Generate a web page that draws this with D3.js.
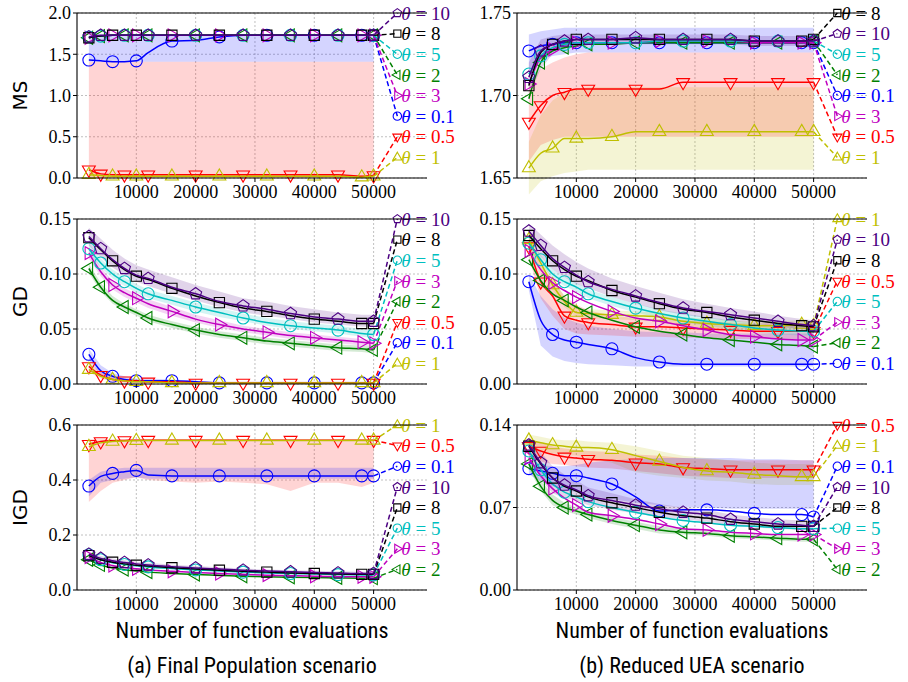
<!DOCTYPE html>
<html>
<head>
<meta charset="utf-8">
<script src="https://cdn.jsdelivr.net/npm/d3@7"></script>
<style>
body { margin: 0; background: #fff; }
</style>
</head>
<body>
<svg id="chart" width="908" height="682"></svg>
<script>
// evaluation counts where every series was sampled
var evals = [2000, 4000, 6000, 8000, 10000, 12000, 16000, 20000, 24000, 28000, 32000, 36000, 40000, 44000, 48000, 50000];
var thetas = ["0.1", "0.5", "1", "2", "3", "5", "8", "10"];
var thetaColors = ["#0000ff", "#ff0000", "#bfbf00", "#008000", "#bf00bf", "#00bfbf", "#000000", "#4b0082"];
var thetaMarkers = ["circle", "triDown", "triUp", "triLeft", "triRight", "circle", "square", "pentagon"];
var xTicks = [10000, 20000, 30000, 40000, 50000];

// ---- MS, final population (rows follow thetas order)
var msFinalPop = [
  [1.43, 1.42, 1.41, 1.41, 1.42, 1.52, 1.66, 1.67, 1.71, 1.73, 1.73, 1.73, 1.73, 1.73, 1.73, 1.73],
  [0.10, 0.05, 0.04, 0.04, 0.04, 0.04, 0.04, 0.04, 0.04, 0.04, 0.04, 0.04, 0.04, 0.04, 0.02, 0.03],
  [0.04, 0.03, 0.02, 0.02, 0.02, 0.02, 0.02, 0.02, 0.02, 0.02, 0.02, 0.02, 0.02, 0.02, 0.01, 0.02],
  [1.70, 1.72, 1.73, 1.73, 1.73, 1.73, 1.73, 1.73, 1.73, 1.73, 1.73, 1.73, 1.73, 1.73, 1.73, 1.73],
  [1.70, 1.72, 1.73, 1.73, 1.73, 1.73, 1.73, 1.73, 1.73, 1.73, 1.73, 1.73, 1.73, 1.73, 1.73, 1.73],
  [1.71, 1.72, 1.73, 1.73, 1.73, 1.73, 1.73, 1.73, 1.73, 1.73, 1.73, 1.73, 1.73, 1.73, 1.73, 1.73],
  [1.70, 1.72, 1.73, 1.73, 1.73, 1.73, 1.73, 1.73, 1.73, 1.73, 1.73, 1.73, 1.73, 1.73, 1.73, 1.73],
  [1.71, 1.73, 1.73, 1.73, 1.73, 1.73, 1.73, 1.73, 1.73, 1.73, 1.73, 1.73, 1.73, 1.73, 1.73, 1.73]
];
var msFinalPopBands = [
  {theta: "0.5", lo: [0, 0, 0, 0, 0, 0, 0, 0, 0, 0, 0, 0, 0, 0, 0, 0],
   hi: [1.41, 1.41, 1.41, 1.41, 1.41, 1.41, 1.41, 1.41, 1.41, 1.41, 1.41, 1.41, 1.41, 1.41, 1.41, 1.41]},
  {theta: "1", lo: [0, 0, 0, 0, 0, 0, 0, 0, 0, 0, 0, 0, 0, 0, 0, 0],
   hi: [0.07, 0.05, 0.04, 0.04, 0.04, 0.04, 0.04, 0.04, 0.04, 0.04, 0.04, 0.04, 0.04, 0.04, 0.03, 0.03]},
  {theta: "0.1", lo: [1.41, 1.41, 1.41, 1.41, 1.41, 1.41, 1.41, 1.41, 1.41, 1.41, 1.41, 1.41, 1.41, 1.41, 1.41, 1.41],
   hi: [1.74, 1.74, 1.74, 1.74, 1.74, 1.74, 1.74, 1.74, 1.74, 1.74, 1.74, 1.74, 1.74, 1.74, 1.74, 1.74]}
];
var msFinalPopOrder = ["10", "8", "5", "2", "3", "0.1", "0.5", "1"];

// ---- MS, reduced UEA
var msReducedUea = [
  [1.727, 1.730, 1.731, 1.732, 1.732, 1.732, 1.732, 1.732, 1.732, 1.732, 1.732, 1.732, 1.732, 1.732, 1.732, 1.732],
  [1.684, 1.694, 1.700, 1.702, 1.704, 1.704, 1.704, 1.704, 1.704, 1.708, 1.708, 1.708, 1.708, 1.708, 1.708, 1.708],
  [1.656, 1.665, 1.668, 1.674, 1.674, 1.674, 1.675, 1.678, 1.678, 1.678, 1.678, 1.678, 1.678, 1.678, 1.678, 1.678],
  [1.698, 1.720, 1.727, 1.729, 1.730, 1.731, 1.731, 1.732, 1.732, 1.732, 1.732, 1.732, 1.732, 1.732, 1.732, 1.733],
  [1.707, 1.723, 1.728, 1.731, 1.732, 1.732, 1.732, 1.732, 1.733, 1.733, 1.733, 1.733, 1.732, 1.732, 1.732, 1.732],
  [1.713, 1.724, 1.729, 1.731, 1.732, 1.732, 1.732, 1.732, 1.733, 1.733, 1.733, 1.733, 1.733, 1.733, 1.733, 1.733],
  [1.706, 1.726, 1.731, 1.733, 1.734, 1.734, 1.734, 1.734, 1.734, 1.734, 1.734, 1.734, 1.733, 1.733, 1.733, 1.734],
  [1.711, 1.727, 1.731, 1.733, 1.734, 1.734, 1.734, 1.735, 1.734, 1.734, 1.734, 1.734, 1.733, 1.733, 1.733, 1.733]
];
var msReducedUeaBands = [
  {theta: "1", lo: [1.640, 1.648, 1.651, 1.653, 1.654, 1.655, 1.655, 1.655, 1.655, 1.655, 1.655, 1.655, 1.655, 1.655, 1.655, 1.655],
   hi: [1.672, 1.688, 1.697, 1.702, 1.704, 1.705, 1.705, 1.705, 1.705, 1.705, 1.705, 1.705, 1.705, 1.705, 1.705, 1.705]},
  {theta: "0.5", lo: [1.660, 1.670, 1.673, 1.675, 1.675, 1.675, 1.675, 1.675, 1.675, 1.675, 1.675, 1.675, 1.675, 1.675, 1.675, 1.675],
   hi: [1.708, 1.716, 1.720, 1.723, 1.725, 1.726, 1.726, 1.726, 1.726, 1.726, 1.726, 1.726, 1.726, 1.726, 1.726, 1.726]},
  {theta: "0.1", lo: [1.715, 1.722, 1.724, 1.725, 1.726, 1.726, 1.726, 1.726, 1.726, 1.726, 1.726, 1.726, 1.726, 1.726, 1.726, 1.726],
   hi: [1.737, 1.739, 1.740, 1.741, 1.741, 1.741, 1.741, 1.741, 1.741, 1.741, 1.741, 1.741, 1.741, 1.741, 1.741, 1.741]},
  {theta: "10", lo: [1.700, 1.716, 1.725, 1.729, 1.730, 1.731, 1.731, 1.731, 1.731, 1.731, 1.731, 1.731, 1.730, 1.730, 1.730, 1.730],
   hi: [1.720, 1.734, 1.736, 1.737, 1.737, 1.737, 1.737, 1.737, 1.737, 1.737, 1.737, 1.737, 1.736, 1.736, 1.736, 1.736]}
];
var msReducedUeaOrder = ["8", "10", "5", "2", "0.1", "3", "0.5", "1"];

// ---- GD, final population
var gdFinalPop = [
  [0.027, 0.012, 0.007, 0.004, 0.003, 0.003, 0.003, 0.002, 0.001, 0.001, 0.001, 0.001, 0.001, 0.001, 0.001, 0.001],
  [0.016, 0.008, 0.004, 0.003, 0.003, 0.002, 0.002, 0.001, 0.001, 0.001, 0.001, 0.001, 0.001, 0.001, 0.001, 0.001],
  [0.013, 0.007, 0.004, 0.003, 0.002, 0.002, 0.001, 0.001, 0.001, 0.001, 0.001, 0.001, 0.001, 0.001, 0.001, 0.001],
  [0.105, 0.088, 0.076, 0.070, 0.065, 0.060, 0.054, 0.049, 0.045, 0.042, 0.039, 0.037, 0.035, 0.033, 0.032, 0.031],
  [0.119, 0.102, 0.090, 0.083, 0.078, 0.073, 0.066, 0.059, 0.054, 0.050, 0.047, 0.044, 0.042, 0.040, 0.038, 0.037],
  [0.123, 0.110, 0.100, 0.093, 0.087, 0.082, 0.076, 0.070, 0.065, 0.060, 0.056, 0.053, 0.051, 0.049, 0.046, 0.045],
  [0.133, 0.122, 0.112, 0.104, 0.098, 0.095, 0.087, 0.080, 0.074, 0.069, 0.066, 0.062, 0.059, 0.057, 0.055, 0.055],
  [0.134, 0.123, 0.113, 0.105, 0.099, 0.096, 0.088, 0.082, 0.075, 0.071, 0.068, 0.064, 0.061, 0.059, 0.057, 0.057]
];
var gdFinalPopBands = [
  {theta: "0.1", lo: [0.022, 0.008, 0.004, 0.002, 0.001, 0.001, 0.001, 0.001, 0, 0, 0, 0, 0, 0, 0, 0],
   hi: [0.032, 0.017, 0.010, 0.007, 0.005, 0.005, 0.004, 0.003, 0.002, 0.002, 0.002, 0.002, 0.002, 0.002, 0.002, 0.002]},
  {theta: "0.5", lo: [0.011, 0.005, 0.002, 0.001, 0.001, 0.001, 0.001, 0, 0, 0, 0, 0, 0, 0, 0, 0],
   hi: [0.020, 0.011, 0.006, 0.005, 0.004, 0.003, 0.003, 0.002, 0.002, 0.002, 0.002, 0.002, 0.002, 0.002, 0.002, 0.002]},
  {theta: "2", lo: [0.101, 0.084, 0.073, 0.067, 0.062, 0.057, 0.051, 0.046, 0.042, 0.039, 0.036, 0.034, 0.032, 0.030, 0.029, 0.028],
   hi: [0.109, 0.092, 0.080, 0.073, 0.068, 0.063, 0.057, 0.052, 0.048, 0.045, 0.042, 0.040, 0.038, 0.036, 0.035, 0.034]},
  {theta: "3", lo: [0.114, 0.098, 0.086, 0.079, 0.074, 0.069, 0.062, 0.056, 0.051, 0.047, 0.044, 0.041, 0.039, 0.037, 0.035, 0.034],
   hi: [0.124, 0.106, 0.094, 0.087, 0.082, 0.077, 0.070, 0.063, 0.058, 0.053, 0.050, 0.047, 0.045, 0.043, 0.041, 0.040]},
  {theta: "5", lo: [0.118, 0.106, 0.096, 0.089, 0.083, 0.078, 0.072, 0.066, 0.061, 0.057, 0.053, 0.050, 0.048, 0.046, 0.043, 0.042],
   hi: [0.128, 0.114, 0.104, 0.097, 0.091, 0.086, 0.080, 0.074, 0.069, 0.064, 0.060, 0.057, 0.055, 0.053, 0.050, 0.049]},
  {theta: "10", lo: [0.126, 0.115, 0.106, 0.099, 0.093, 0.089, 0.082, 0.076, 0.070, 0.065, 0.062, 0.059, 0.056, 0.054, 0.052, 0.052],
   hi: [0.142, 0.132, 0.122, 0.114, 0.108, 0.104, 0.097, 0.090, 0.084, 0.078, 0.075, 0.071, 0.068, 0.065, 0.063, 0.063]}
];
var gdFinalPopOrder = ["10", "8", "5", "3", "2", "0.5", "0.1", "1"];

// ---- GD, reduced UEA
var gdReducedUea = [
  [0.093, 0.058, 0.045, 0.040, 0.038, 0.036, 0.032, 0.024, 0.020, 0.018, 0.018, 0.018, 0.018, 0.018, 0.018, 0.018],
  [0.125, 0.093, 0.080, 0.062, 0.058, 0.056, 0.054, 0.052, 0.052, 0.051, 0.050, 0.049, 0.048, 0.048, 0.048, 0.048],
  [0.131, 0.110, 0.090, 0.075, 0.065, 0.064, 0.063, 0.062, 0.061, 0.057, 0.055, 0.054, 0.053, 0.053, 0.054, 0.053],
  [0.113, 0.094, 0.082, 0.076, 0.070, 0.065, 0.058, 0.052, 0.048, 0.045, 0.042, 0.040, 0.038, 0.036, 0.035, 0.034],
  [0.121, 0.104, 0.092, 0.085, 0.079, 0.074, 0.066, 0.060, 0.057, 0.053, 0.049, 0.045, 0.043, 0.041, 0.040, 0.040],
  [0.128, 0.113, 0.100, 0.093, 0.088, 0.082, 0.075, 0.069, 0.064, 0.060, 0.057, 0.054, 0.051, 0.049, 0.048, 0.048],
  [0.135, 0.123, 0.112, 0.104, 0.098, 0.094, 0.085, 0.079, 0.073, 0.068, 0.065, 0.061, 0.058, 0.055, 0.053, 0.052],
  [0.139, 0.126, 0.114, 0.106, 0.099, 0.093, 0.086, 0.080, 0.074, 0.069, 0.066, 0.063, 0.060, 0.057, 0.054, 0.053]
];
var gdReducedUeaBands = [
  {theta: "0.1", lo: [0.085, 0.035, 0.025, 0.021, 0.019, 0.018, 0.017, 0.016, 0.016, 0.016, 0.016, 0.016, 0.016, 0.016, 0.016, 0.016],
   hi: [0.100, 0.080, 0.068, 0.060, 0.056, 0.053, 0.050, 0.048, 0.047, 0.047, 0.046, 0.046, 0.046, 0.046, 0.046, 0.046]},
  {theta: "0.5", lo: [0.115, 0.078, 0.062, 0.050, 0.046, 0.045, 0.044, 0.043, 0.043, 0.042, 0.042, 0.041, 0.041, 0.041, 0.041, 0.041],
   hi: [0.132, 0.108, 0.095, 0.080, 0.072, 0.067, 0.062, 0.060, 0.059, 0.058, 0.057, 0.056, 0.055, 0.055, 0.055, 0.055]},
  {theta: "1", lo: [0.126, 0.104, 0.085, 0.070, 0.061, 0.060, 0.059, 0.058, 0.057, 0.053, 0.051, 0.050, 0.049, 0.049, 0.050, 0.049],
   hi: [0.136, 0.116, 0.095, 0.080, 0.069, 0.068, 0.067, 0.066, 0.065, 0.061, 0.059, 0.058, 0.057, 0.057, 0.058, 0.057]},
  {theta: "5", lo: [0.123, 0.109, 0.096, 0.089, 0.084, 0.078, 0.071, 0.065, 0.060, 0.056, 0.053, 0.050, 0.047, 0.045, 0.044, 0.044],
   hi: [0.133, 0.117, 0.104, 0.097, 0.092, 0.086, 0.079, 0.073, 0.068, 0.064, 0.061, 0.058, 0.055, 0.053, 0.052, 0.052]},
  {theta: "10", lo: [0.132, 0.116, 0.104, 0.097, 0.091, 0.087, 0.079, 0.073, 0.067, 0.063, 0.060, 0.057, 0.055, 0.052, 0.050, 0.049],
   hi: [0.146, 0.136, 0.126, 0.118, 0.111, 0.105, 0.096, 0.089, 0.083, 0.077, 0.073, 0.069, 0.066, 0.062, 0.059, 0.058]}
];
var gdReducedUeaOrder = ["1", "10", "8", "0.5", "5", "3", "2", "0.1"];

// ---- IGD, final population
var igdFinalPop = [
  [0.378, 0.413, 0.424, 0.430, 0.435, 0.418, 0.415, 0.415, 0.415, 0.415, 0.415, 0.415, 0.415, 0.415, 0.415, 0.415],
  [0.530, 0.540, 0.543, 0.544, 0.545, 0.545, 0.545, 0.545, 0.545, 0.545, 0.545, 0.545, 0.545, 0.545, 0.545, 0.545],
  [0.521, 0.535, 0.540, 0.542, 0.543, 0.544, 0.544, 0.544, 0.544, 0.544, 0.544, 0.544, 0.544, 0.544, 0.544, 0.544],
  [0.110, 0.091, 0.080, 0.074, 0.069, 0.065, 0.060, 0.056, 0.053, 0.050, 0.048, 0.046, 0.045, 0.044, 0.043, 0.043],
  [0.120, 0.100, 0.089, 0.082, 0.077, 0.073, 0.068, 0.064, 0.060, 0.057, 0.054, 0.052, 0.050, 0.049, 0.048, 0.048],
  [0.128, 0.110, 0.099, 0.093, 0.088, 0.084, 0.078, 0.073, 0.069, 0.065, 0.062, 0.060, 0.058, 0.056, 0.055, 0.055],
  [0.125, 0.110, 0.101, 0.095, 0.090, 0.087, 0.081, 0.076, 0.072, 0.068, 0.065, 0.062, 0.060, 0.058, 0.057, 0.057],
  [0.130, 0.115, 0.106, 0.100, 0.095, 0.091, 0.085, 0.080, 0.076, 0.072, 0.069, 0.066, 0.064, 0.062, 0.060, 0.060]
];
var igdFinalPopBands = [
  {theta: "0.5", lo: [0.320, 0.360, 0.390, 0.400, 0.410, 0.400, 0.395, 0.390, 0.395, 0.390, 0.385, 0.360, 0.390, 0.390, 0.375, 0.390],
   hi: [0.548, 0.548, 0.548, 0.548, 0.548, 0.548, 0.548, 0.548, 0.548, 0.548, 0.548, 0.548, 0.548, 0.548, 0.548, 0.548]},
  {theta: "0.1", lo: [0.340, 0.390, 0.400, 0.405, 0.410, 0.405, 0.405, 0.405, 0.405, 0.405, 0.405, 0.405, 0.405, 0.405, 0.405, 0.405],
   hi: [0.400, 0.430, 0.440, 0.445, 0.445, 0.445, 0.445, 0.445, 0.445, 0.445, 0.445, 0.445, 0.445, 0.445, 0.445, 0.445]},
  {theta: "10", lo: [0.120, 0.106, 0.097, 0.092, 0.087, 0.083, 0.078, 0.073, 0.069, 0.066, 0.063, 0.060, 0.058, 0.056, 0.054, 0.054],
   hi: [0.140, 0.124, 0.115, 0.108, 0.103, 0.099, 0.092, 0.087, 0.083, 0.078, 0.075, 0.072, 0.070, 0.068, 0.066, 0.066]}
];
var igdFinalPopOrder = ["1", "0.5", "0.1", "10", "8", "5", "3", "2"];

// ---- IGD, reduced UEA
var igdReducedUea = [
  [0.103, 0.101, 0.099, 0.097, 0.097, 0.095, 0.090, 0.079, 0.067, 0.068, 0.068, 0.067, 0.065, 0.064, 0.064, 0.062],
  [0.122, 0.118, 0.115, 0.113, 0.112, 0.111, 0.110, 0.108, 0.107, 0.104, 0.103, 0.102, 0.102, 0.102, 0.102, 0.102],
  [0.127, 0.125, 0.123, 0.122, 0.121, 0.121, 0.119, 0.114, 0.109, 0.104, 0.101, 0.100, 0.098, 0.097, 0.096, 0.096],
  [0.107, 0.088, 0.076, 0.070, 0.067, 0.064, 0.059, 0.055, 0.051, 0.049, 0.048, 0.046, 0.045, 0.044, 0.043, 0.043],
  [0.112, 0.097, 0.086, 0.078, 0.072, 0.066, 0.063, 0.060, 0.056, 0.052, 0.051, 0.049, 0.048, 0.047, 0.047, 0.047],
  [0.118, 0.102, 0.090, 0.083, 0.079, 0.075, 0.070, 0.066, 0.062, 0.059, 0.057, 0.055, 0.054, 0.053, 0.052, 0.052],
  [0.122, 0.107, 0.095, 0.088, 0.084, 0.079, 0.074, 0.070, 0.066, 0.063, 0.061, 0.058, 0.056, 0.054, 0.054, 0.054],
  [0.123, 0.108, 0.095, 0.089, 0.085, 0.080, 0.076, 0.072, 0.069, 0.066, 0.064, 0.060, 0.058, 0.056, 0.055, 0.054]
];
var igdReducedUeaBands = [
  {theta: "1", lo: [0.122, 0.118, 0.116, 0.115, 0.114, 0.112, 0.108, 0.100, 0.097, 0.095, 0.093, 0.092, 0.090, 0.089, 0.089, 0.089],
   hi: [0.132, 0.130, 0.128, 0.127, 0.127, 0.126, 0.125, 0.122, 0.118, 0.114, 0.112, 0.110, 0.108, 0.107, 0.107, 0.107]},
  {theta: "0.5", lo: [0.112, 0.109, 0.107, 0.106, 0.105, 0.104, 0.103, 0.101, 0.099, 0.097, 0.096, 0.095, 0.095, 0.095, 0.095, 0.095],
   hi: [0.128, 0.125, 0.122, 0.120, 0.119, 0.118, 0.117, 0.115, 0.114, 0.112, 0.111, 0.110, 0.110, 0.110, 0.110, 0.110]},
  {theta: "0.1", lo: [0.098, 0.092, 0.088, 0.085, 0.083, 0.080, 0.077, 0.074, 0.072, 0.070, 0.070, 0.069, 0.069, 0.069, 0.069, 0.069],
   hi: [0.108, 0.106, 0.105, 0.105, 0.106, 0.108, 0.110, 0.111, 0.112, 0.112, 0.112, 0.112, 0.111, 0.111, 0.110, 0.110]},
  {theta: "10", lo: [0.113, 0.094, 0.082, 0.078, 0.076, 0.072, 0.068, 0.065, 0.062, 0.060, 0.058, 0.055, 0.053, 0.052, 0.051, 0.050],
   hi: [0.128, 0.117, 0.105, 0.098, 0.093, 0.087, 0.082, 0.077, 0.073, 0.070, 0.068, 0.064, 0.062, 0.060, 0.059, 0.058]},
  {theta: "2", lo: [0.103, 0.084, 0.072, 0.067, 0.064, 0.061, 0.056, 0.052, 0.048, 0.047, 0.046, 0.044, 0.043, 0.042, 0.041, 0.041],
   hi: [0.111, 0.093, 0.081, 0.074, 0.070, 0.067, 0.062, 0.058, 0.054, 0.052, 0.050, 0.048, 0.047, 0.046, 0.045, 0.045]}
];
var igdReducedUeaOrder = ["0.5", "1", "0.1", "10", "8", "5", "3", "2"];

var panels = [
  {col: 0, row: 0, ylabel: "MS", domain: [0, 2], ticks: [0, 0.5, 1, 1.5, 2], fmt: ".1f", values: msFinalPop, bands: msFinalPopBands, order: msFinalPopOrder},
  {col: 1, row: 0, ylabel: null, domain: [1.65, 1.75], ticks: [1.65, 1.70, 1.75], fmt: ".2f", values: msReducedUea, bands: msReducedUeaBands, order: msReducedUeaOrder},
  {col: 0, row: 1, ylabel: "GD", domain: [0, 0.15], ticks: [0, 0.05, 0.10, 0.15], fmt: ".2f", values: gdFinalPop, bands: gdFinalPopBands, order: gdFinalPopOrder},
  {col: 1, row: 1, ylabel: null, domain: [0, 0.15], ticks: [0, 0.05, 0.10, 0.15], fmt: ".2f", values: gdReducedUea, bands: gdReducedUeaBands, order: gdReducedUeaOrder},
  {col: 0, row: 2, ylabel: "IGD", domain: [0, 0.6], ticks: [0, 0.2, 0.4, 0.6], fmt: ".1f", values: igdFinalPop, bands: igdFinalPopBands, order: igdFinalPopOrder},
  {col: 1, row: 2, ylabel: null, domain: [0, 0.14], ticks: [0, 0.07, 0.14], fmt: ".2f", values: igdReducedUea, bands: igdReducedUeaBands, order: igdReducedUeaOrder}
];

var serif = "'Liberation Serif', 'Times New Roman', serif";
var sans = "'DejaVu Sans', 'Liberation Sans', sans-serif";
var condensed = "'Roboto Condensed', 'DejaVu Sans Condensed', sans-serif";

var colLeft = [77, 517], colWidth = 350;
var rowTop = [13, 219, 425], rowHeight = 165;
var labelX = 54000;

var svg = d3.select("#chart");

// custom pentagon marker
var symbolPentagon = {
  draw: function(ctx, size) {
    var r = Math.sqrt(size / 2.378);
    for (var k = 0; k < 5; k++) {
      var a = -Math.PI / 2 + k * 2 * Math.PI / 5;
      if (k === 0) ctx.moveTo(r * Math.cos(a), r * Math.sin(a));
      else ctx.lineTo(r * Math.cos(a), r * Math.sin(a));
    }
    ctx.closePath();
  }
};

function drawMarker(g, kind, x, y, color, scale) {
  var type = d3.symbolCircle, size = 113, rot = 0;
  if (kind === "square") { type = d3.symbolSquare; size = 105; }
  else if (kind === "pentagon") { type = symbolPentagon; size = 95; }
  else if (kind.indexOf("tri") === 0) {
    type = d3.symbolTriangle; size = 72;
    rot = {triUp: 0, triDown: 180, triLeft: -90, triRight: 90}[kind];
  }
  g.append("path")
    .attr("d", d3.symbol().type(type).size(size * scale * scale)())
    .attr("transform", "translate(" + x + "," + y + ") rotate(" + rot + ")")
    .attr("fill", "none")
    .attr("stroke", color)
    .attr("stroke-width", 1.1);
}

panels.forEach(function(p) {
  var x0 = colLeft[p.col], y0 = rowTop[p.row];
  var x = d3.scaleLinear().domain([0, 59000]).range([x0, x0 + colWidth]);
  var y = d3.scaleLinear().domain(p.domain).range([y0 + rowHeight, y0]);
  var g = svg.append("g");

  // grid
  g.selectAll(".gx").data(xTicks).enter().append("line")
    .attr("x1", d => x(d)).attr("x2", d => x(d))
    .attr("y1", y0).attr("y2", y0 + rowHeight)
    .attr("stroke", "#b0b0b0").attr("stroke-width", 0.8).attr("stroke-dasharray", "2,2");
  g.selectAll(".gy").data(p.ticks).enter().append("line")
    .attr("x1", x0).attr("x2", x0 + colWidth)
    .attr("y1", d => y(d)).attr("y2", d => y(d))
    .attr("stroke", "#b0b0b0").attr("stroke-width", 0.8).attr("stroke-dasharray", "2,2");

  // bands
  var area = d3.area().x((d, i) => x(evals[i])).y0(d => y(d[0])).y1(d => y(d[1]));
  p.bands.forEach(function(b) {
    var si = thetas.indexOf(b.theta);
    g.append("path")
      .attr("d", area(b.lo.map((v, i) => [v, b.hi[i]])))
      .attr("fill", thetaColors[si])
      .attr("fill-opacity", 0.17);
  });

  // series
  var line = d3.line().x((d, i) => x(evals[i])).y(d => y(d)).curve(d3.curveMonotoneX);
  var step = (p.domain[1] - p.domain[0]) / 8;
  thetas.forEach(function(t, si) {
    var vals = p.values[si], col = thetaColors[si];
    g.append("path").attr("d", line(vals))
      .attr("fill", "none").attr("stroke", col).attr("stroke-width", 1.5);
    vals.forEach(function(v, i) {
      if (i === 0 || i === vals.length - 1 || (i + si) % 2 === 0)
        drawMarker(g, thetaMarkers[si], x(evals[i]), y(v), col, 1);
    });
    // label leader + annotation
    var k = p.order.indexOf(t);
    var ly = p.domain[1] - k * step;
    g.append("line")
      .attr("x1", x(evals[evals.length - 1])).attr("y1", y(vals[vals.length - 1]))
      .attr("x2", x(labelX)).attr("y2", y(ly))
      .attr("stroke", col).attr("stroke-width", 1.5).attr("stroke-dasharray", "5,3");
    drawMarker(g, thetaMarkers[si], x(labelX), y(ly), col, 0.7);
    var txt = g.append("text")
      .attr("font-family", serif).attr("font-size", 19)
      .attr("x", x(labelX) + 4).attr("y", y(ly)).attr("dy", "0.35em")
      .attr("fill", col);
    txt.append("tspan").attr("font-style", "italic").text("θ");
    txt.append("tspan").text(" = " + t);
  });

  // spines
  var spine = g.append("g").attr("stroke", "#000").attr("stroke-width", 1.1);
  spine.append("line").attr("x1", x0).attr("x2", x0).attr("y1", y0).attr("y2", y0 + rowHeight);
  spine.append("line").attr("x1", x0).attr("x2", x0 + colWidth).attr("y1", y0 + rowHeight).attr("y2", y0 + rowHeight);
  spine.append("line").attr("x1", x0).attr("x2", x0 + colWidth).attr("y1", y0).attr("y2", y0);

  // ticks
  var fmt = d3.format(p.fmt);
  p.ticks.forEach(function(t) {
    g.append("line").attr("x1", x0 - 4).attr("x2", x0).attr("y1", y(t)).attr("y2", y(t)).attr("stroke", "#000");
    g.append("text").attr("font-family", serif).attr("font-size", 18)
      .attr("x", x0 - 6).attr("y", y(t)).attr("dy", "0.35em")
      .attr("text-anchor", "end").text(fmt(t));
  });
  xTicks.forEach(function(t) {
    g.append("line").attr("x1", x(t)).attr("x2", x(t)).attr("y1", y0 + rowHeight).attr("y2", y0 + rowHeight + 4).attr("stroke", "#000");
    g.append("text").attr("font-family", serif).attr("font-size", 18)
      .attr("x", x(t)).attr("y", y0 + rowHeight + 20)
      .attr("text-anchor", "middle").text(t);
  });

  if (p.ylabel) {
    svg.append("text").attr("font-family", sans).attr("font-size", 20)
      .attr("transform", "translate(27," + (y0 + rowHeight / 2) + ") rotate(-90)")
      .attr("text-anchor", "middle").text(p.ylabel);
  }
});

// column captions
var captions = ["(a) Final Population scenario", "(b) Reduced UEA scenario"];
[0, 1].forEach(function(c) {
  var cx = colLeft[c] + colWidth / 2;
  svg.append("text").attr("font-family", condensed).attr("font-size", 22)
    .attr("x", cx).attr("y", 638)
    .attr("text-anchor", "middle").text("Number of function evaluations");
  svg.append("text").attr("font-family", condensed).attr("font-size", 22)
    .attr("x", cx).attr("y", 673)
    .attr("text-anchor", "middle").text(captions[c]);
});
</script>
</body>
</html>
